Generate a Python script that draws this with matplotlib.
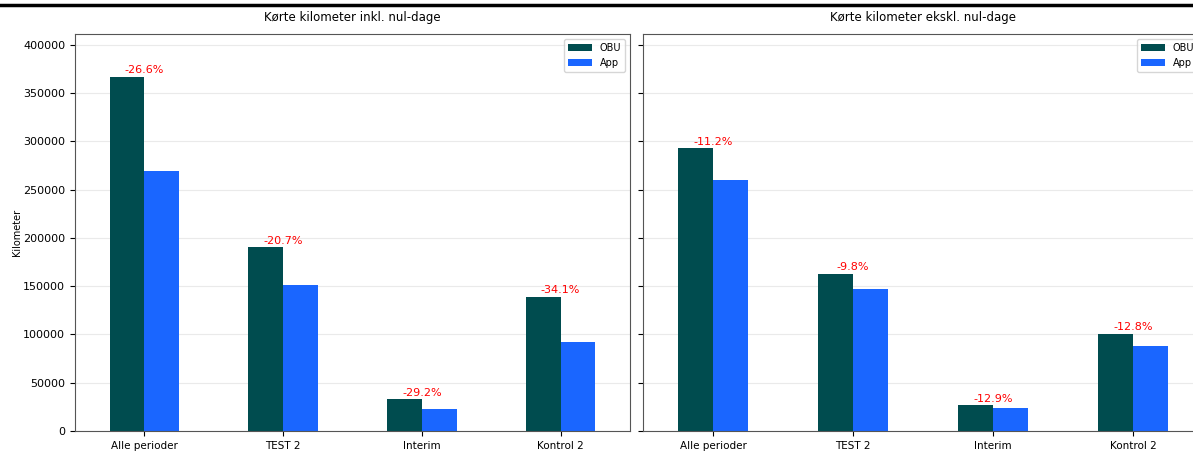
import numpy as np
import matplotlib.pyplot as plt

# Kørte kilometer pr. periode, OBU vs App
perioder = ['Alle perioder', 'TEST 2', 'Interim', 'Kontrol 2']

obu_inkl = [367000, 190300, 32800, 139100]
app_inkl = [269400, 150900, 23230, 91700]

obu_ekskl = [292900, 162700, 26900, 100500]
app_ekskl = [260100, 146800, 23440, 87600]

farve_obu = '#004c4f'
farve_app = '#1a66ff'

fig = plt.figure(figsize=(11.93, 4.53), dpi=100)
ax1 = fig.add_axes([75 / 1193, 22 / 453, 555 / 1193, 397 / 453])
ax2 = fig.add_axes([643 / 1193, 22 / 453, 560 / 1193, 397 / 453], sharey=ax1)

# afskåret linje øverst fra dokumentet
fig.add_artist(plt.Line2D([0, 1], [1 - 5 / 453, 1 - 5 / 453], color='black', lw=2.5,
                          transform=fig.transFigure))


def tegn(ax, obu, app, titel):
    x = np.arange(len(perioder))
    b = 0.25
    ax.bar(x - b / 2, obu, width=b, color=farve_obu, label='OBU')
    ax.bar(x + b / 2, app, width=b, color=farve_app, label='App')
    for i in range(len(perioder)):
        pct = (app[i] - obu[i]) / obu[i] * 100
        ax.text(x[i], obu[i] + 1500, f'{pct:.1f}%', color='red', ha='center',
                va='bottom', fontsize=8)
    ax.set_xticks(x)
    ax.set_xticklabels(perioder, fontsize=7.5)
    ax.set_xlim(-0.5, len(perioder) - 0.5)
    ax.set_title(titel, fontsize=8.5, pad=9)
    ax.grid(axis='y', color='#dddddd', alpha=0.6, lw=0.8)
    ax.set_axisbelow(True)
    ax.legend(loc='upper right', fontsize=7, handlelength=2.5, framealpha=0.8)
    ax.tick_params(axis='y', labelsize=8)
    for s in ax.spines.values():
        s.set_color('#555555')


tegn(ax1, obu_inkl, app_inkl, 'Kørte kilometer inkl. nul-dage')
tegn(ax2, obu_ekskl, app_ekskl, 'Kørte kilometer ekskl. nul-dage')

ax1.set_ylim(0, 411000)
ax1.set_ylabel('Kilometer', fontsize=7)
ax1.yaxis.set_label_coords(-0.095, 0.5)
plt.setp(ax2.get_yticklabels(), visible=False)

fig.savefig('out.png', dpi=100)
